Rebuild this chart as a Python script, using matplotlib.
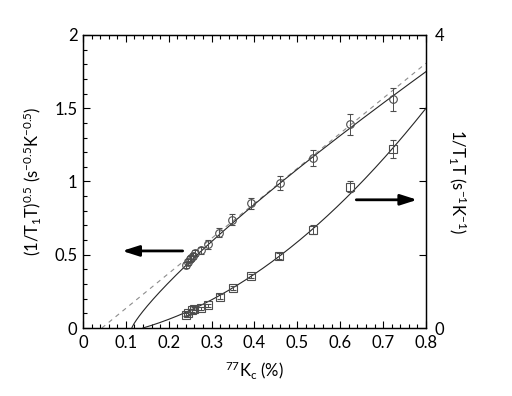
import numpy as np
import matplotlib
matplotlib.use("Agg")
import matplotlib.pyplot as plt
from matplotlib.ticker import MultipleLocator, FixedLocator

plt.rcParams['font.family'] = ['Lato', 'DejaVu Sans']
plt.rcParams['mathtext.fontset'] = 'custom'
plt.rcParams['mathtext.rm'] = 'Lato'
plt.rcParams['mathtext.it'] = 'Lato'

# circles: (1/T1T)^0.5 vs 77Kc (left axis)
k_circ = [0.240, 0.244, 0.249, 0.253, 0.257, 0.261, 0.275, 0.292, 0.317,
          0.348, 0.391, 0.459, 0.536, 0.622, 0.724]
y_circ = [0.43, 0.45, 0.47, 0.48, 0.49, 0.51, 0.53, 0.57, 0.65,
          0.74, 0.85, 0.99, 1.16, 1.39, 1.56]
e_circ = [0.02, 0.02, 0.02, 0.02, 0.02, 0.02, 0.025, 0.03, 0.03,
          0.035, 0.04, 0.05, 0.055, 0.07, 0.08]

# squares: 1/T1T vs 77Kc (right axis)
k_sq = [0.240, 0.246, 0.255, 0.260, 0.275, 0.292, 0.319, 0.349, 0.391,
        0.458, 0.536, 0.622, 0.724]
y_sq = [0.18, 0.20, 0.24, 0.26, 0.27, 0.31, 0.43, 0.55, 0.71,
        0.98, 1.34, 1.93, 2.44]
e_sq = [0.02, 0.02, 0.02, 0.02, 0.02, 0.02, 0.03, 0.03, 0.03,
        0.04, 0.06, 0.07, 0.12]

# fit parameters
circ_fit = dict(m=2.395, p=0.833, k0=0.114)
sq_fit = dict(a=4.28, b=1.72, k0=0.14)
lin_fit = dict(slope=2.39, k0=0.044)

xticks = [0, 0.1, 0.2, 0.3, 0.4, 0.5, 0.6, 0.7, 0.8]
xticklabels = ['0', '0.1', '0.2', '0.3', '0.4', '0.5', '0.6', '0.7', '0.8']
lticks = [0, 0.5, 1, 1.5, 2]
lticklabels = ['0', '0.5', '1', '1.5', '2']

fig = plt.figure(figsize=(5.12, 3.96), dpi=100)
ax = fig.add_axes([0.162, 0.1717, 0.670, 0.740])
ax2 = ax.twinx()

ax.set_xlim(0, 0.8)
ax.set_ylim(0, 2)
ax2.set_ylim(0, 4)

# dashed linear
kl = np.linspace(lin_fit['k0'], 0.8, 100)
ax.plot(kl, lin_fit['slope'] * (kl - lin_fit['k0']), ls=(0, (4, 4)), color='0.55', lw=0.8)

# circle fit
kc = np.linspace(circ_fit['k0'], 0.8, 400)
ax.plot(kc, circ_fit['m'] * (kc - circ_fit['k0'])**circ_fit['p'], color='0.15', lw=0.8)

# square fit
ks = np.linspace(sq_fit['k0'], 0.8, 400)
d = ks - sq_fit['k0']
ax2.plot(ks, sq_fit['a'] * d**2 + sq_fit['b'] * d, color='0.15', lw=0.8)

ax.errorbar(k_circ, y_circ, yerr=e_circ, fmt='o', ms=5.5, mfc='none', mec='0.3',
            mew=0.8, ecolor='0.3', elinewidth=0.7, capsize=2, capthick=0.7)
ax2.errorbar(k_sq, y_sq, yerr=e_sq, fmt='s', ms=6, mfc='none', mec='0.3',
             mew=0.8, ecolor='0.3', elinewidth=0.7, capsize=2, capthick=0.7)

# arrows
ax.annotate('', xy=(0.085, 0.526), xytext=(0.239, 0.526),
            arrowprops=dict(arrowstyle='-|>,head_length=1.0,head_width=0.32', color='black', lw=2))
ax2.annotate('', xy=(0.786, 1.75), xytext=(0.631, 1.75),
             arrowprops=dict(arrowstyle='-|>,head_length=1.0,head_width=0.32', color='black', lw=2))

ax.set_xticks(xticks)
ax.set_xticklabels(xticklabels)
ax.set_yticks(lticks)
ax.set_yticklabels(lticklabels)
ax.xaxis.set_minor_locator(MultipleLocator(0.02))
ax.yaxis.set_minor_locator(MultipleLocator(0.1))
ax.tick_params(axis='x', which='both', direction='in', top=True, labelsize=12, pad=5)
ax.tick_params(axis='y', which='both', direction='in', right=False, labelsize=12, pad=4)
ax.tick_params(which='major', length=5, width=0.8)
ax.tick_params(which='minor', length=3, width=0.8)

ax2.yaxis.set_major_locator(FixedLocator([0, 1, 2, 3, 4]))
ax2.set_yticklabels(['0', '', '', '', '4'])
ax2.tick_params(axis='y', direction='in', length=5, width=0.8, labelsize=12, pad=6)

for a_ in (ax, ax2):
    for s in a_.spines.values():
        s.set_linewidth(0.9)

ax.set_xlabel(r'$^{77}$K$_{\mathregular{c}}$ (%)', fontsize=12, labelpad=6)
ax.set_ylabel(r'(1/T$_{1}$T)$^{0.5}$ (s$^{-0.5}$K$^{-0.5}$)', fontsize=12, labelpad=8)
ax2.set_ylabel(r'1/T$_{1}$T (s$^{-1}$K$^{-1}$)', fontsize=12, rotation=270, labelpad=18)

fig.savefig('out.png', dpi=100)
